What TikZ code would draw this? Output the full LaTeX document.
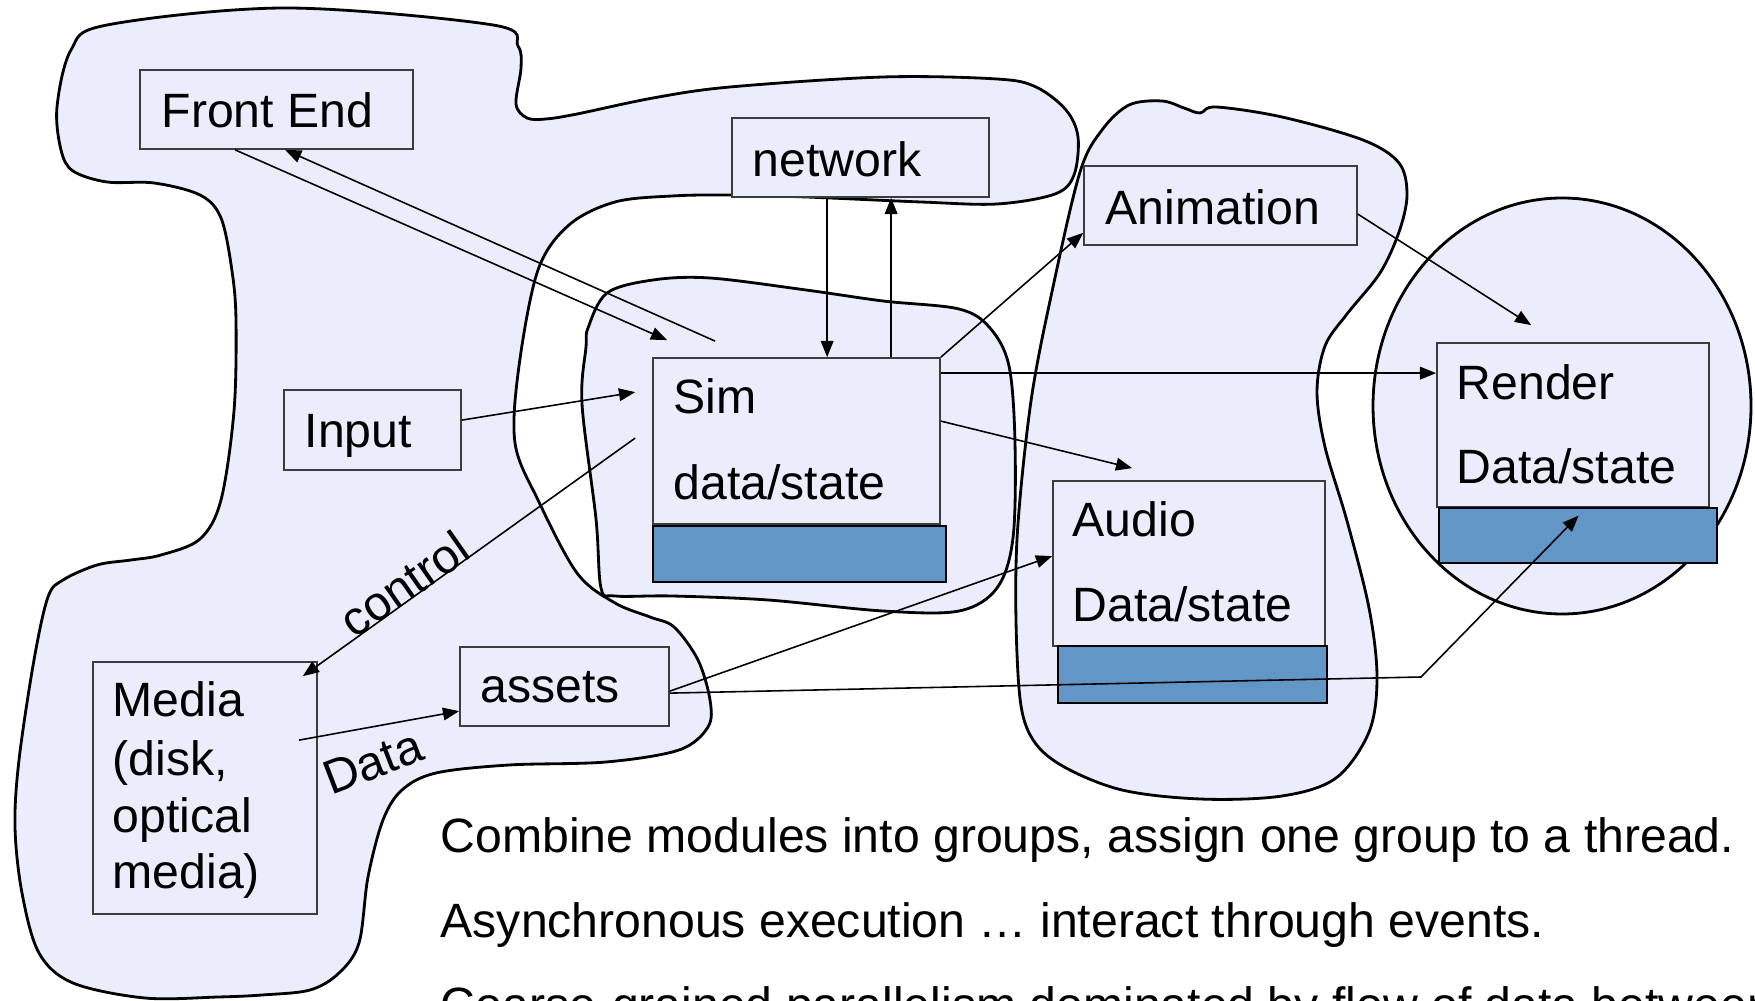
\documentclass[tikz,border=0pt]{standalone}
\usepackage{fontspec}
\setmainfont{Liberation Sans}
\usetikzlibrary{arrows.meta,calc,fit}

\definecolor{grpfill}{RGB}{235,237,253}
\definecolor{bufblue}{RGB}{97,150,198}
\definecolor{boxline}{RGB}{60,60,60}
\newcommand{\lblfont}{\fontsize{13.7pt}{16pt}\selectfont}

\begin{document}
\begin{tikzpicture}[x=0.01cm, y=-0.01cm, >={Triangle[length=4.6pt,width=3.6pt]},
  grp/.style={fill=grpfill},
  grpline/.style={draw=black, line width=0.8pt},
  box/.style={draw=boxline, fill=grpfill, line width=0.5pt, inner sep=0pt},
  buf/.style={draw=black, fill=bufblue, line width=0.8pt, inner sep=0pt},
  txt/.style={anchor=base west, inner sep=0pt, font=\lblfont},
  lbl/.style={inner sep=0pt, font=\lblfont},
  flow/.style={->, line width=0.45pt}]
  \useasboundingbox (0,0) rectangle (1755,1001);

  % thread groups
  \path[grp, save path=\grpA] plot[smooth cycle, tension=0.55] coordinates {
    (57,107) (71,50) (107,25) (286,8) (493,25) (518,46) (521,68) (516,104)
    (527,118) (546,119) (577,114) (653,98) (730,87) (883,77) (997,79) (1036,87)
    (1066,110) (1078,137) (1074,175) (1055,194) (997,204) (921,202) (806,197)
    (730,195) (672,196) (615,202) (569,225) (538,270) (519,366) (515,443)
    (538,500) (577,573) (615,603) (650,617) (674,627) (698,660) (710,700)
    (708,727) (679,750) (606,762) (509,765) (436,773) (402,790) (383,820)
    (368,877) (359,943) (339,973) (310,990) (262,995) (218,997) (145,998)
    (73,983) (39,953) (22,893) (15,827) (19,760) (34,660) (48,597) (63,580)
    (97,565) (131,560) (161,555) (200,539) (221,500) (234,411) (236,321)
    (232,271) (221,218) (200,195) (154,183) (107,182) (73,171) (61,150)};
  \path[grp, save path=\grpB] plot[smooth cycle, tension=0.55] coordinates {
    (588,328) (607,293) (653,280) (710,278) (806,290) (883,301) (959,309)
    (990,328) (1009,366) (1015,443) (1013,538) (997,588) (959,611) (883,611)
    (768,600) (672,596) (615,596) (601,588) (596,519) (582,404) (586,347)};
  \path[grp, save path=\grpC] plot[smooth cycle, tension=0.55] coordinates {
    (1184,108) (1200,113) (1216,107) (1282,117) (1363,140) (1399,163)
    (1407,195) (1399,232) (1380,273) (1347,314) (1325,346) (1317,392)
    (1325,447) (1347,521) (1369,608) (1377,677) (1369,732) (1336,778)
    (1282,796) (1200,799) (1118,789) (1053,760) (1025,723) (1017,654)
    (1017,539) (1031,401) (1053,287) (1080,172) (1102,130) (1129,105) (1162,101)};
  \path[grp, save path=\grpD] (1562,406) ellipse [x radius=189, y radius=208];
  \draw[grpline, use path=\grpA];
  \draw[grpline, use path=\grpB];
  \draw[grpline, use path=\grpC];
  \draw[grpline, use path=\grpD];

  % modules
  \node[box, fit={(140,70) (413,149)}] (fe) {};
  \node[box, fit={(732,118) (989,197)}] (net) {};
  \node[box, fit={(1084,166) (1357,245)}] (anim) {};
  \node[box, fit={(284,390) (461,470)}] (inp) {};
  \node[box, fit={(653,358) (940,524)}] (sim) {};
  \node[buf, fit={(653,526) (946,582)}] (sbar) {};
  \node[box, fit={(1437,343) (1709,507)}] (ren) {};
  \node[buf, fit={(1439,508) (1717,563)}] (rbar) {};
  \node[box, fit={(1053,481) (1325,646)}] (aud) {};
  \node[buf, fit={(1058,646) (1327,703)}] (abar) {};
  \node[box, fit={(93,662) (317,914)}] (med) {};
  \node[box, fit={(460,647) (669,726)}] (ast) {};

  \node[txt] (feT) at (161,128) {Front End};
  \node[txt] (netT) at (752,177) {network};
  \node[txt] (animT) at (1105,225) {Animation};
  \node[txt] (inpT) at (304,448) {Input};
  \node[txt] (simT) at (673,414) {Sim};
  \node[txt] (simD) at (673,500) {data/state};
  \node[txt] (renT) at (1456,400) {Render};
  \node[txt] (renD) at (1456,484) {Data/state};
  \node[txt] (audT) at (1072,537) {Audio};
  \node[txt] (audD) at (1072,622) {Data/state};
  \node[txt] (medT) at (112,717) {Media};
  \node[txt] (medD) at (112,775) {(disk,};
  \node[txt] (medO) at (112,832) {optical};
  \node[txt] (medM) at (112,888) {media)};
  \node[txt] (astT) at (480,703) {assets};

  % connectors
  \coordinate (bend) at (1421,677);
  \draw[flow] ($(fe.south west)+(96,0)$) -- ($(sim.north west)+(15,-17)$);
  \draw[flow] ($(sim.north west)+(63,-16)$) -- ($(fe.south west)+(146,0)$);
  \draw[flow] ($(net.south west)+(96,0)$) -- ($(sim.north west)+(175,0)$);
  \draw[flow] ($(sim.north west)+(239,0)$) -- ($(net.south west)+(160,0)$);
  \draw[flow] ($(inp.north east)+(0,31)$) -- ($(sim.north west)+(-17,35)$);
  \draw[flow] ($(sim.north west)+(-17,81)$) -- ($(med.north east)+(-15,15)$);
  \draw[flow] ($(med.north west)+(207,79)$) -- ($(ast.north west)+(0,65)$);
  \draw[flow] ($(ast.north east)+(0,45)$) -- ($(aud.north west)+(0,76)$);
  \draw[flow] ($(ast.north east)+(0,47)$) -- (bend) -- ($(rbar.north west)+(141,9)$);
  \draw[flow] (sim.north east) -- ($(anim.south west)+(0,-13)$);
  \draw[flow] ($(sim.north east)+(0,16)$) -- ($(ren.north west)+(0,31)$);
  \draw[flow] ($(sim.north east)+(0,64)$) -- ($(aud.north west)+(80,-12)$);
  \draw[flow] ($(anim.north east)+(0,49)$) -- ($(ren.north west)+(95,-17)$);

  \node[lbl, rotate=35] (ctl) at (404,584) {control};
  \node[lbl, rotate=21] (dat) at (373,762) {Data};

  % notes
  \node[txt] (note1) at (440,853) {Combine modules into groups, assign one group to a thread.};
  \node[txt] (note2) at (440,937) {Asynchronous execution … interact through events.};
  \node[txt] (note3) at (440,1021) {Coarse-grained parallelism dominated by flow of data between};
\end{tikzpicture}
\end{document}
